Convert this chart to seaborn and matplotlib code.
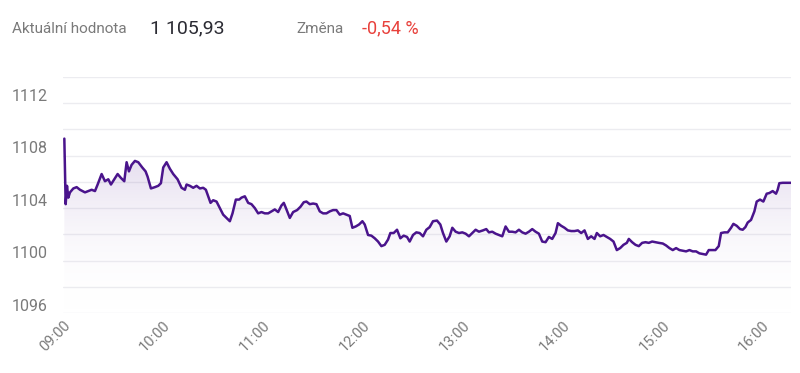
import numpy as np
import pandas as pd
import matplotlib
matplotlib.use("Agg")
import matplotlib.pyplot as plt
import seaborn as sns
from matplotlib.colors import LinearSegmentedColormap
from matplotlib.transforms import ScaledTranslation

# DATA (minutes after 09:00, index value)

minutes = [
    0.8, 1.6, 2.4, 3.2, 4.2, 6.2, 8.2, 10.2, 13.2, 15.2, 17.2, 19.2, 20.8, 23.2,
    25.2, 27.2, 28.8, 30.8, 32.8, 34.8, 36.8, 38.2, 39.6, 41.2, 43.2, 45.2, 47.6,
    49.6, 50.8, 52.8, 55.2, 57.2, 58.8, 60.2, 62.2, 64.2, 66.2, 68.8, 71.2, 73.2,
    74.2, 76.2, 78.2, 80.2, 82.2, 84.2, 85.8, 87.2, 88.6, 90.2, 92.2, 94.2, 96.2,
    98.2, 100.2, 101.8, 103.8, 105.8, 107.2, 109.2, 111.2, 113.2, 115.2, 117.2,
    119.2, 121.2, 123.2, 125.2, 127.2, 129.2, 131.2, 132.6, 134.2, 136.2, 138.2,
    140.6, 142.6, 144.6, 146.2, 148.2, 150.2, 152.2, 154.2, 156.2, 158.2, 160.2,
    162.2, 164.2, 166.2, 168.2, 170.2, 172.2, 173.8, 175.8, 177.8, 179.8, 181.2,
    183.2, 185.2, 187.2, 189.2, 191.2, 193.2, 195.2, 196.6, 198.6, 200.6, 202.6,
    204.6, 206.6, 208.2, 210.2, 212.2, 214.2, 216.2, 218.2, 220.2, 222.2, 224.6,
    226.6, 228.2, 230.2, 232.2, 233.8, 235.8, 237.8, 239.8, 241.8, 243.8, 245.8,
    247.8, 249.8, 252.2, 254.2, 255.8, 257.8, 259.8, 261.8, 263.8, 265.8, 267.8,
    269.8, 271.8, 273.8, 275.8, 277.8, 279.8, 281.8, 283.8, 285.8, 287.8, 289.8,
    291.8, 293.8, 295.8, 297.2, 299.2, 301.2, 303.2, 305.2, 307.2, 309.2, 311.2,
    313.2, 315.2, 317.2, 319.2, 320.6, 322.6, 324.6, 326.6, 328.6, 330.6, 332.6,
    334.6, 336.6, 338.6, 339.8, 341.8, 343.8, 345.8, 347.8, 349.8, 351.8, 353.8,
    355.8, 357.8, 360.2, 362.2, 364.2, 366.2, 368.2, 370.2, 372.2, 374.2, 376.2,
    378.2, 380.2, 382.2, 384.2, 386.2, 387.8, 389.8, 391.8, 393.8, 395.2, 397.2,
    399.2, 401.2, 402.6, 404.6, 406.6, 408.2, 409.8, 411.2, 413.2, 415.2, 416.6,
    418.6, 420.6, 422.6, 424.2, 426.2, 428.2, 429.2, 430.2, 432.2, 437.2,
]

values = [
    1109.3, 1104.3, 1105.7, 1104.8, 1105.2, 1105.5, 1105.6, 1105.4, 1105.2, 1105.3,
    1105.4, 1105.3, 1105.8, 1106.6, 1106.05, 1106.2, 1105.8, 1106.2, 1106.6, 1106.3,
    1106.05, 1107.5, 1106.8, 1107.3, 1107.6, 1107.5, 1107.1, 1106.8, 1106.4, 1105.5,
    1105.6, 1105.7, 1105.9, 1107.1, 1107.5, 1107.0, 1106.6, 1106.2, 1105.55, 1105.4,
    1105.8, 1105.7, 1105.55, 1105.7, 1105.5, 1105.55, 1105.4, 1104.9, 1104.4, 1104.6,
    1104.5, 1104.0, 1103.5, 1103.25, 1103.0, 1103.6, 1104.65, 1104.65, 1104.8, 1104.9,
    1104.4, 1104.3, 1104.0, 1103.6, 1103.7, 1103.6, 1103.6, 1103.75, 1103.9, 1103.7,
    1104.2, 1104.4, 1103.9, 1103.25, 1103.7, 1103.85, 1104.1, 1104.45, 1104.5, 1104.3,
    1104.35, 1104.3, 1103.75, 1103.6, 1103.6, 1103.75, 1103.85, 1103.85, 1103.5, 1103.6,
    1103.5, 1103.4, 1102.5, 1102.6, 1102.75, 1103.0, 1102.75, 1101.95, 1101.9, 1101.7,
    1101.45, 1101.1, 1101.2, 1101.6, 1102.1, 1102.1, 1102.35, 1101.7, 1101.9, 1101.8,
    1101.45, 1101.95, 1102.15, 1102.1, 1101.85, 1102.35, 1102.55, 1103.0, 1103.05, 1102.75,
    1102.1, 1101.45, 1101.85, 1102.5, 1102.2, 1102.1, 1102.15, 1102.05, 1101.85, 1102.1,
    1102.35, 1102.2, 1102.3, 1102.4, 1102.15, 1102.2, 1102.05, 1101.95, 1101.85, 1102.6,
    1102.2, 1102.2, 1102.15, 1102.35, 1102.15, 1102.05, 1102.2, 1102.4, 1102.2, 1102.05,
    1101.45, 1101.4, 1101.8, 1101.65, 1102.1, 1102.85, 1102.65, 1102.5, 1102.3, 1102.25,
    1102.25, 1102.3, 1102.1, 1102.3, 1101.65, 1101.85, 1101.65, 1102.1, 1101.85, 1101.95,
    1101.8, 1101.65, 1101.45, 1100.8, 1100.95, 1101.2, 1101.35, 1101.65, 1101.4, 1101.2,
    1101.1, 1101.35, 1101.4, 1101.35, 1101.45, 1101.4, 1101.35, 1101.3, 1101.15,
    1100.95, 1100.8, 1100.95, 1100.8, 1100.75, 1100.7, 1100.8, 1100.7, 1100.7, 1100.55,
    1100.5, 1100.45, 1100.8, 1100.8, 1100.8, 1101.1, 1102.1, 1102.15, 1102.15, 1102.5,
    1102.8, 1102.65, 1102.4, 1102.35, 1102.55, 1102.9, 1103.1, 1103.75, 1104.5, 1104.65,
    1104.5, 1105.1, 1105.15, 1105.3, 1105.1, 1105.4, 1105.9, 1105.93, 1105.93,
]

tick_minutes = [0, 60, 120, 180, 240, 300, 360, 420]
tick_labels = ["09:00", "10:00", "11:00", "12:00", "13:00", "14:00", "15:00", "16:00"]
grid_levels = list(range(1096, 1115, 2))

df = pd.DataFrame({"minute": minutes, "value": values})

# PLOT

sns.set_style("white")
plt.rcParams["font.family"] = ["Roboto", "DejaVu Sans"]

line_color = "#4a148c"
grey = "#7a7a7a"

fig = plt.figure(figsize=(8, 3.73), dpi=100)
ax = fig.add_axes([63 / 800, 1 - 313 / 373, 728 / 800, 236 / 373])

for g in grid_levels:
    ax.axhline(g, color="#ececf0", lw=1, zorder=0)

# gradient fill under the line
poly = ax.fill_between(df["minute"], df["value"], 1096, facecolor="none", edgecolor="none")
purple_fade = LinearSegmentedColormap.from_list(
    "fade", [(1, 1, 1, 0), (0.29, 0.08, 0.55, 0.2)]
)
grad = np.linspace(0, 1, 256).reshape(-1, 1)
im = ax.imshow(grad, extent=[0, 437.2, 1096, 1110], origin="lower",
               aspect="auto", cmap=purple_fade, zorder=1)
im.set_clip_path(poly.get_paths()[0], transform=ax.transData)

sns.lineplot(data=df, x="minute", y="value", color=line_color, lw=1.8, ax=ax, zorder=3)

ax.set_xlim(0, 437.2)
ax.set_ylim(1096, 1114)
ax.set_xticks(tick_minutes)
ax.set_xticklabels(tick_labels, rotation=45, ha="right", va="top",
                   rotation_mode="anchor", color=grey, fontsize=10.5)
ax.set_yticks(grid_levels)
ax.set_yticklabels([str(g) if g % 4 == 0 else "" for g in grid_levels],
                   color=grey, fontsize=11.5, ha="left")
ax.tick_params(axis="y", length=0, pad=37)
ax.tick_params(axis="x", length=0, pad=4)

shift = ScaledTranslation(0, 6 / 72, fig.dpi_scale_trans)
for lab in ax.get_yticklabels():
    lab.set_transform(lab.get_transform() + shift)

ax.set_xlabel("")
ax.set_ylabel("")
sns.despine(ax=ax, left=True, bottom=True)

# header
fig.text(12 / 800, 1 - 29 / 373, "Aktuální hodnota", color=grey, fontsize=11, va="center")
fig.text(150 / 800, 1 - 28 / 373, "1 105,93", color="#2b2b33", fontsize=14, va="center")
fig.text(296 / 800, 1 - 29 / 373, "Změna", color=grey, fontsize=11, va="center")
fig.text(362 / 800, 1 - 28 / 373, "-0,54 %", color="#e8413c", fontsize=13, va="center")

fig.savefig("out.png", dpi=100)
